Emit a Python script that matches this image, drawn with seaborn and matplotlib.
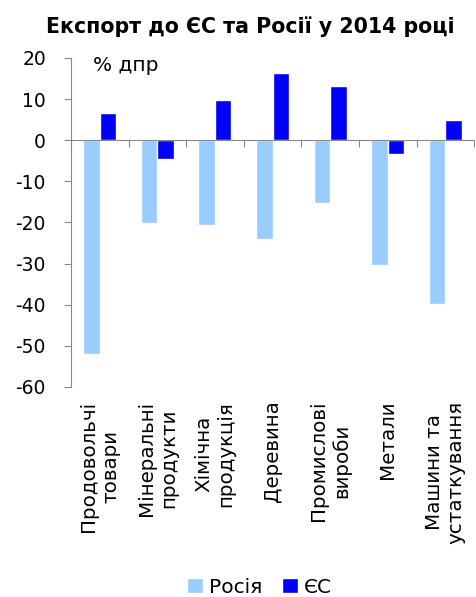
import numpy as np
import pandas as pd
import matplotlib
matplotlib.use('Agg')
import matplotlib.pyplot as plt
import seaborn as sns

# Export growth to EU and Russia in 2014, % y/y
categories = ['Продовольчі\nтовари', 'Мінеральні\nпродукти', 'Хімічна\nпродукція',
              'Деревина', 'Промислові\nвироби', 'Метали', 'Машини та\nустаткування']
russia = [-51.9, -20.2, -20.7, -24.0, -15.3, -30.4, -39.9]
eu = [6.7, -4.6, 9.8, 16.3, 13.2, -3.4, 5.0]
series_names = ['Росія', 'ЄС']
colors = ['#99CCFF', '#0000FF']

df = pd.DataFrame({
    'cat': categories * 2,
    'series': [series_names[0]] * len(categories) + [series_names[1]] * len(categories),
    'value': russia + eu,
})

sns.set_style('white')
plt.rcParams['font.family'] = ['DejaVu Sans']
plt.rcParams['axes.unicode_minus'] = False
plt.rcParams['text.color'] = 'black'
plt.rcParams['xtick.labelcolor'] = 'black'
plt.rcParams['ytick.labelcolor'] = 'black'

fig = plt.figure(figsize=(4.76, 5.97), dpi=100)
ax = fig.add_axes([0.149, 0.352, 0.847, 0.551])

sns.barplot(data=df, x='cat', y='value', hue='series', palette=colors,
            saturation=1, width=0.57, gap=0, ax=ax, legend=True)

grey = '#888888'
ax.set_ylim(-60, 20)
ax.set_xlim(-0.5, len(categories) - 0.5)
ax.set_yticks(np.arange(-60, 21, 10))
ax.tick_params(axis='y', direction='out', length=5, color=grey, labelsize=13.5, pad=13, left=True)
ax.tick_params(axis='x', length=0, labelsize=14.3, rotation=90, pad=10)
for lbl in ax.get_xticklabels():
    lbl.set_multialignment('center')
ax.set_xlabel('')
ax.set_ylabel('')

for side in ['top', 'right', 'bottom']:
    ax.spines[side].set_visible(False)
ax.spines['left'].set_color(grey)

# zero line with category boundary ticks, drawn over the bars
secax = ax.secondary_xaxis(0.75)
secax.set_alignment('bottom')
secax.set_xticks(np.arange(-0.5, len(categories), 1.0))
secax.set_xticklabels([])
secax.tick_params(direction='out', length=5, color=grey)
for sp in secax.spines.values():
    sp.set_color(grey)
secax.set_zorder(5)

ax.text(0.055, 1.005, '% дпр', transform=ax.transAxes, fontsize=14.5, va='top')

fig.suptitle('Експорт до ЄС та Росії у 2014 році', fontsize=14.8,
             fontweight='bold', x=0.525, y=0.972)

handles, labels = ax.get_legend_handles_labels()
ax.get_legend().remove()
fig.legend(handles, labels, loc='lower center', bbox_to_anchor=(0.545, -0.03),
           ncol=2, frameon=False, fontsize=14.5, handlelength=0.8, handleheight=0.8,
           handletextpad=0.3, columnspacing=1.0)

fig.savefig('out.png', dpi=100)
